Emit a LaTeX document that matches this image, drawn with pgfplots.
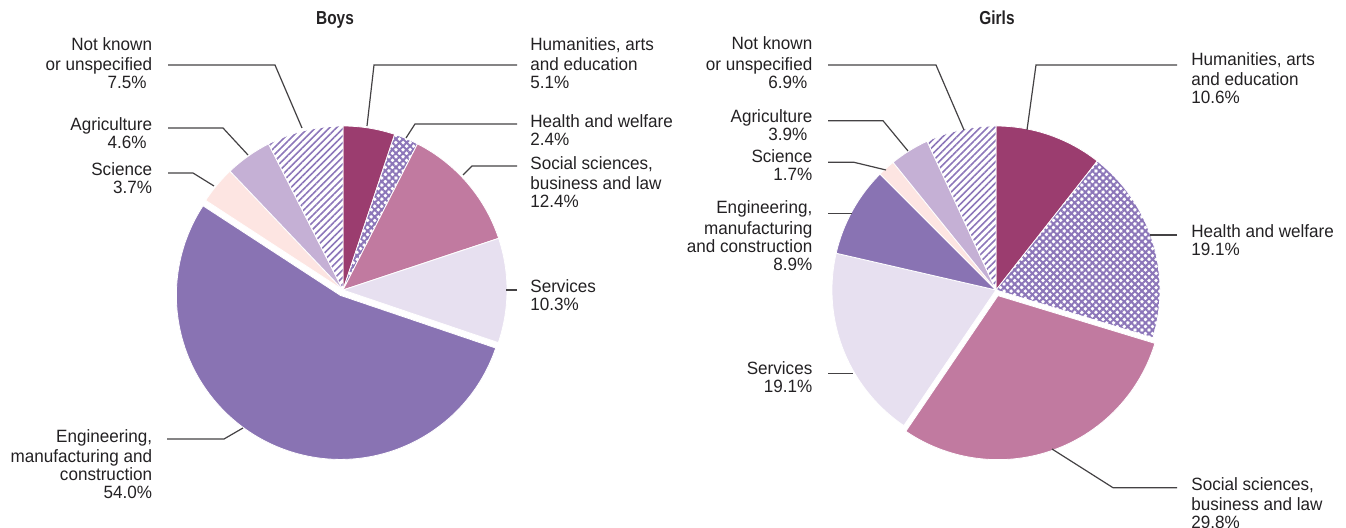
\documentclass[border=0pt]{standalone}
\usepackage{fontspec}
\setmainfont{Liberation Sans}[FakeStretch=0.96]
\newfontfamily\condfont{Liberation Sans}[FakeStretch=0.82]
\usepackage{pgfplots}
\pgfplotsset{compat=1.18}
\usepackage{pgfplotstable}
\usetikzlibrary{patterns.meta}

\definecolor{cHum}{RGB}{155,61,111}
\definecolor{cSoc}{RGB}{193,122,160}
\definecolor{cSer}{RGB}{231,224,240}
\definecolor{cEng}{RGB}{137,115,179}
\definecolor{cSci}{RGB}{253,229,226}
\definecolor{cAgr}{RGB}{197,176,213}
\definecolor{cHatch}{RGB}{140,118,185}
\definecolor{cText}{RGB}{35,33,35}

% shares in %, clockwise from 12 o'clock
\pgfplotstableread{
share style explode
5.1  hum 0
2.4  hea 0
12.4 soc 0
10.3 ser 0
54.0 eng 6
3.7  sci 0
4.6  agr 0
7.5  unk 0
}\boys
\pgfplotstableread{
share style explode
10.6 hum 0
19.1 hea 0
29.8 soc 6
19.1 ser 0
8.9  eng 0
1.7  sci 0
3.9  agr 0
6.9  unk 0
}\girls

\tikzset{
  slice/.style={draw=white, line width=0.4pt},
  hum/.style={fill=cHum},
  hea/.style={pattern={Hatch[angle=45,distance=2.5pt,line width=1pt]}, pattern color=cHatch},
  soc/.style={fill=cSoc},
  ser/.style={fill=cSer},
  eng/.style={fill=cEng},
  sci/.style={fill=cSci},
  agr/.style={fill=cAgr},
  unk/.style={pattern={Lines[angle=45,distance=2.5pt,line width=0.8pt]}, pattern color=cHatch},
  lab/.style={inner sep=0pt, text=cText, font=\fontsize{8.9}{9}\selectfont},
  east/.style={anchor=north east, align=right},
  west/.style={anchor=north west, align=left},
  lead/.style={draw=cText!85, line width=0.6pt},
}

\def\R{164}
% one pie from a table, centre in axis units (1 unit = 0.5pt)
\newcommand\pie[3]{%
  \pgfplotstablegetrowsof{#1}%
  \pgfmathtruncatemacro\nlast{\pgfplotsretval-1}%
  \def\cum{0}%
  \pgfplotsforeachungrouped \k in {0,...,\nlast}{%
    \pgfplotstablegetelem{\k}{share}\of{#1}\let\v\pgfplotsretval
    \pgfplotstablegetelem{\k}{style}\of{#1}\let\st\pgfplotsretval
    \pgfplotstablegetelem{\k}{explode}\of{#1}\let\ex\pgfplotsretval
    \pgfmathsetmacro\aone{90-3.6*\cum}%
    \pgfmathsetmacro\atwo{90-3.6*(\cum+\v)}%
    \pgfmathsetmacro\amid{(\aone+\atwo)/2}%
    \pgfmathsetmacro\ox{#2+\ex*cos(\amid)}%
    \pgfmathsetmacro\oy{#3-\ex*sin(\amid)}%
    \pgfmathsetmacro\sx{\ox+\R*cos(\aone)}%
    \pgfmathsetmacro\sy{\oy-\R*sin(\aone)}%
    \pgfmathsetmacro\rad{\R*0.5}%
    \edef\tmp{\noexpand\path[slice,\st] (axis cs:\ox,\oy) -- (axis cs:\sx,\sy)
      arc[start angle=\aone, end angle=\atwo, radius=\rad pt] -- cycle;}%
    \tmp
    \pgfmathsetmacro\cum{\cum+\v}%
  }%
}
% label: x, first baseline, side, text
\newcommand\lab[4]{\node[lab,#3] at (axis cs:#1,#2-12.8) {#4};}

\begin{document}
\begin{tikzpicture}
\begin{axis}[
  name=ax,
  width=673pt, height=264pt, scale only axis,
  xmin=0, xmax=1346, ymin=0, ymax=528, y dir=reverse,
  enlargelimits=false, hide axis, clip=false,
]
\pie{\boys}{343}{290}
\pie{\girls}{996}{290}

\node[anchor=base, text=cText, font=\condfont\bfseries\fontsize{9.4}{10}\selectfont]
  at (axis cs:335,25) {Boys};
\node[anchor=base, text=cText, font=\condfont\bfseries\fontsize{9.4}{10}\selectfont]
  at (axis cs:997,25) {Girls};

% boys
\draw[lead] (axis cs:168,65) -- (axis cs:275,65) -- (axis cs:302,128);
\draw[lead] (axis cs:168,128) -- (axis cs:223,128) -- (axis cs:248,155);
\draw[lead] (axis cs:168,173) -- (axis cs:193,173) -- (axis cs:214,186);
\draw[lead] (axis cs:167,439) -- (axis cs:224,439) -- (axis cs:243,428);
\draw[lead] (axis cs:517,65) -- (axis cs:374,65) -- (axis cs:367,126);
\draw[lead] (axis cs:517,124) -- (axis cs:415,124) -- (axis cs:406,138);
\draw[lead] (axis cs:517,166) -- (axis cs:472,166) -- (axis cs:463,175);
\draw[lead] (axis cs:517,290) -- (axis cs:506,290);

\lab{152.5}{50}{east}{\strut Not known\\or unspecified\\7.5\%\hspace*{2.8pt}}
\lab{152.5}{130}{east}{\strut Agriculture\\4.6\%\hspace*{2.8pt}}
\lab{152.5}{175}{east}{\strut Science\\3.7\%}
\lab{152.5}{441.7}{east}{\strut Engineering,\\manufacturing and\\construction\\54.0\%}
\lab{530}{50}{west}{\strut Humanities, arts\\and education\\5.1\%}
\lab{530}{127.3}{west}{\strut Health and welfare\\2.4\%}
\lab{530}{169}{west}{\strut Social sciences,\\business and law\\12.4\%}
\lab{530}{291.7}{west}{\strut Services\\10.3\%}

% girls
\draw[lead] (axis cs:828,65) -- (axis cs:936,65) -- (axis cs:964,130);
\draw[lead] (axis cs:828,120.7) -- (axis cs:883,120.7) -- (axis cs:908,151);
\draw[lead] (axis cs:828,162.3) -- (axis cs:854,162.3) -- (axis cs:886,170);
\draw[lead] (axis cs:828,213.3) -- (axis cs:852,213.3);
\draw[lead] (axis cs:828,373.3) -- (axis cs:853,373.3);
\draw[lead] (axis cs:1177,65) -- (axis cs:1036,65) -- (axis cs:1027,130);
\draw[lead] (axis cs:1177,235) -- (axis cs:1150,235);
\draw[lead] (axis cs:1177,487.7) -- (axis cs:1113,487.7) -- (axis cs:1052,449);

\lab{812.7}{49.3}{east}{\strut Not known\\or unspecified\\6.9\%\hspace*{2.5pt}}
\lab{812.7}{121.7}{east}{\strut Agriculture\\3.9\%\hspace*{2.5pt}}
\lab{812.7}{162.3}{east}{\strut Science\\1.7\%}
\lab{812.7}{213.3}{east}{\strut Engineering,\\manufacturing\\and construction\\8.9\%}
\lab{812.7}{374}{east}{\strut Services\\19.1\%}
\lab{1191}{65}{west}{\strut Humanities, arts\\and education\\10.6\%}
\lab{1191}{236.7}{west}{\strut Health and welfare\\19.1\%}
\lab{1191}{490}{west}{\strut Social sciences,\\business and law\\29.8\%}
\end{axis}
\pgfresetboundingbox
\useasboundingbox (ax.south west) rectangle (ax.north east);
\end{tikzpicture}
\end{document}
